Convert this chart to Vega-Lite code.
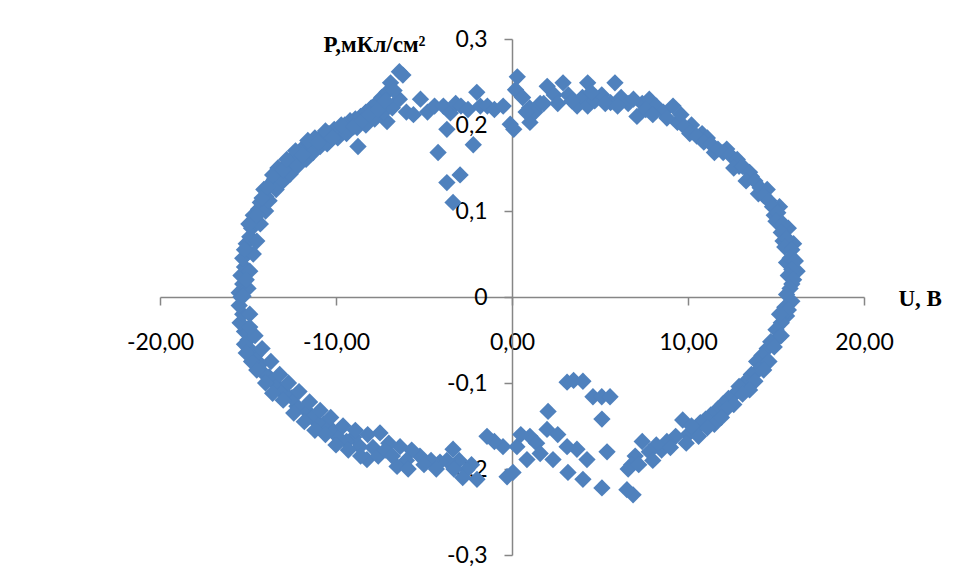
{
  "$schema": "https://vega.github.io/schema/vega-lite/v6.json",
  "width": 704,
  "height": 516,
  "autosize": {"type": "none"},
  "padding": {"left": 160, "top": 39, "right": 91, "bottom": 25},
  "background": "white",
  "config": {"view": {"stroke": null}},
  "data": {"values": [
    {"U":-15.5,"P":0.005},{"U":-15.3,"P":0.015},{"U":-15.4,"P":0.025},{"U":-15.2,"P":0.035},{"U":-15.3,"P":0.045},{"U":-15.0,"P":0.052},{"U":-15.1,"P":0.062},{"U":-14.9,"P":0.07},{"U":-14.8,"P":0.08},{"U":-14.6,"P":0.088},{"U":-14.7,"P":0.095},{"U":-14.4,"P":0.102},{"U":-14.3,"P":0.11},{"U":-14.0,"P":0.117},{"U":-14.1,"P":0.125},{"U":-13.7,"P":0.13},{"U":-13.5,"P":0.137},{"U":-13.2,"P":0.143},{"U":-13.3,"P":0.15},{"U":-12.9,"P":0.152},{"U":-12.6,"P":0.158},{"U":-12.4,"P":0.163},{"U":-12.0,"P":0.168},{"U":-11.8,"P":0.175},{"U":-11.5,"P":0.178},{"U":-11.2,"P":0.185},{"U":-10.8,"P":0.187},{"U":-10.4,"P":0.19},{"U":-10.1,"P":0.195},{"U":-9.8,"P":0.192},{"U":-9.5,"P":0.2},{"U":-9.2,"P":0.205},{"U":-8.9,"P":0.207},{"U":-8.6,"P":0.21},{"U":-8.3,"P":0.215},{"U":-8.0,"P":0.22},{"U":-7.7,"P":0.225},{"U":-7.4,"P":0.232},{"U":-7.1,"P":0.238},{"U":-6.9,"P":0.249},{"U":-6.4,"P":0.262},{"U":-6.2,"P":0.258},
    {"U":-15.0,"P":0.01},{"U":-14.9,"P":0.03},{"U":-14.7,"P":0.05},{"U":-14.5,"P":0.065},{"U":-14.3,"P":0.085},{"U":-14.0,"P":0.1},{"U":-13.8,"P":0.112},{"U":-13.4,"P":0.125},{"U":-13.0,"P":0.135},{"U":-12.6,"P":0.143},{"U":-12.2,"P":0.152},{"U":-11.7,"P":0.16},{"U":-11.3,"P":0.168},{"U":-10.9,"P":0.175},{"U":-10.5,"P":0.178},{"U":-9.9,"P":0.185},{"U":-9.4,"P":0.19},{"U":-8.75,"P":0.175},{"U":-8.8,"P":0.197},{"U":-8.3,"P":0.2},{"U":-7.8,"P":0.207},{"U":-7.1,"P":0.204},{"U":-7.3,"P":0.215},{"U":-6.8,"P":0.22},{"U":-6.4,"P":0.23},
    {"U":-15.4,"P":0.0},{"U":-15.1,"P":0.02},{"U":-15.2,"P":0.055},{"U":-14.95,"P":0.085},{"U":-14.5,"P":0.095},{"U":-14.2,"P":0.115},{"U":-13.9,"P":0.128},{"U":-13.6,"P":0.142},{"U":-13.0,"P":0.148},{"U":-12.8,"P":0.16},{"U":-12.3,"P":0.17},{"U":-11.9,"P":0.165},{"U":-11.6,"P":0.182},{"U":-11.0,"P":0.18},{"U":-10.6,"P":0.193},{"U":-10.2,"P":0.185},{"U":-9.7,"P":0.2},{"U":-9.0,"P":0.198},{"U":-8.5,"P":0.205},{"U":-8.1,"P":0.212},{"U":-7.6,"P":0.218},{"U":-7.2,"P":0.228},{"U":-6.7,"P":0.24},
    {"U":-6.0,"P":0.215},{"U":-5.6,"P":0.212},{"U":-5.2,"P":0.23},{"U":-4.8,"P":0.215},{"U":-4.4,"P":0.222},{"U":-3.9,"P":0.222},{"U":-3.5,"P":0.214},{"U":-3.2,"P":0.225},{"U":-2.9,"P":0.222},{"U":-2.5,"P":0.218},{"U":-2.0,"P":0.238},{"U":-1.8,"P":0.222},{"U":-1.4,"P":0.222},{"U":-1.0,"P":0.218},{"U":-0.5,"P":0.222},{"U":-0.1,"P":0.201},{"U":0.1,"P":0.195},
    {"U":-3.7,"P":0.195},{"U":-2.2,"P":0.177},{"U":-4.2,"P":0.168},{"U":-2.95,"P":0.142},{"U":-3.7,"P":0.133},{"U":-3.35,"P":0.11},
    {"U":0.3,"P":0.256},{"U":0.2,"P":0.241},{"U":0.6,"P":0.232},{"U":1.0,"P":0.22},{"U":1.02,"P":0.203},{"U":1.3,"P":0.215},{"U":1.6,"P":0.225},{"U":2.0,"P":0.245},{"U":2.4,"P":0.235},{"U":2.9,"P":0.249},{"U":3.2,"P":0.235},{"U":3.7,"P":0.222},{"U":4.0,"P":0.232},{"U":4.3,"P":0.249},{"U":4.3,"P":0.222},{"U":4.7,"P":0.228},{"U":5.1,"P":0.235},{"U":5.6,"P":0.226},{"U":5.85,"P":0.249},{"U":6.2,"P":0.232},{"U":6.6,"P":0.225},{"U":7.1,"P":0.21},{"U":7.4,"P":0.225},{"U":7.8,"P":0.23},{"U":8.2,"P":0.222},{"U":8.6,"P":0.215},{"U":9.15,"P":0.222},{"U":9.4,"P":0.203},
    {"U":0.8,"P":0.215},{"U":1.8,"P":0.225},{"U":2.6,"P":0.225},{"U":3.4,"P":0.228},{"U":4.5,"P":0.238},{"U":5.3,"P":0.225},{"U":6.0,"P":0.222},{"U":6.9,"P":0.23},{"U":7.6,"P":0.218},{"U":8.0,"P":0.212},{"U":8.8,"P":0.208},{"U":9.6,"P":0.212},{"U":10.2,"P":0.2},{"U":10.8,"P":0.19},{"U":11.1,"P":0.185},{"U":11.5,"P":0.168},{"U":12.2,"P":0.172},{"U":12.9,"P":0.152},{"U":13.6,"P":0.14},{"U":14.0,"P":0.12},{"U":14.5,"P":0.125},{"U":14.9,"P":0.095},{"U":15.2,"P":0.105},{"U":15.7,"P":0.08},{"U":15.4,"P":0.065},{"U":16.0,"P":0.062},{"U":15.6,"P":0.04},{"U":16.2,"P":0.03},{"U":15.9,"P":0.015},
    {"U":9.8,"P":0.198},{"U":10.1,"P":0.19},{"U":10.5,"P":0.187},{"U":10.9,"P":0.18},{"U":11.3,"P":0.178},{"U":11.7,"P":0.172},{"U":12.0,"P":0.168},{"U":12.4,"P":0.165},{"U":12.8,"P":0.16},{"U":12.6,"P":0.15},{"U":13.1,"P":0.152},{"U":13.5,"P":0.145},{"U":13.3,"P":0.135},{"U":13.8,"P":0.135},{"U":14.1,"P":0.127},{"U":14.3,"P":0.118},{"U":14.6,"P":0.112},{"U":14.8,"P":0.105},{"U":15.1,"P":0.098},{"U":15.0,"P":0.088},{"U":15.4,"P":0.085},{"U":15.3,"P":0.075},{"U":15.6,"P":0.068},{"U":15.5,"P":0.058},{"U":15.9,"P":0.055},{"U":15.8,"P":0.045},{"U":16.1,"P":0.042},{"U":15.9,"P":0.032},{"U":15.7,"P":0.025},{"U":16.0,"P":0.02},{"U":15.8,"P":0.01},{"U":15.6,"P":0.003},
    {"U":15.9,"P":-0.005},{"U":15.5,"P":-0.012},{"U":15.6,"P":-0.022},{"U":15.3,"P":-0.03},{"U":15.0,"P":-0.038},{"U":15.1,"P":-0.048},{"U":14.7,"P":-0.052},{"U":14.5,"P":-0.06},{"U":14.2,"P":-0.068},{"U":13.9,"P":-0.075},{"U":14.0,"P":-0.085},{"U":13.6,"P":-0.09},{"U":13.3,"P":-0.098},{"U":12.9,"P":-0.104},{"U":12.7,"P":-0.112},{"U":12.3,"P":-0.118},{"U":12.0,"P":-0.124},{"U":11.7,"P":-0.13},{"U":11.3,"P":-0.137},{"U":11.0,"P":-0.142},{"U":11.5,"P":-0.148},{"U":10.7,"P":-0.146},{"U":10.4,"P":-0.155},{"U":10.0,"P":-0.16},{"U":9.7,"P":-0.143},{"U":9.3,"P":-0.162},{"U":8.8,"P":-0.168},{"U":8.5,"P":-0.178},{"U":8.2,"P":-0.172},{"U":7.8,"P":-0.18},{"U":7.4,"P":-0.168},{"U":7.0,"P":-0.185},{"U":6.8,"P":-0.195},{"U":6.6,"P":-0.2},
    {"U":15.7,"P":-0.015},{"U":15.2,"P":-0.02},{"U":15.3,"P":-0.045},{"U":14.9,"P":-0.058},{"U":14.6,"P":-0.075},{"U":14.3,"P":-0.085},{"U":13.8,"P":-0.098},{"U":13.5,"P":-0.108},{"U":13.1,"P":-0.113},{"U":12.6,"P":-0.125},{"U":12.2,"P":-0.13},{"U":11.9,"P":-0.14},{"U":11.1,"P":-0.152},{"U":10.6,"P":-0.162},{"U":10.2,"P":-0.15},{"U":9.9,"P":-0.17},{"U":9.0,"P":-0.175},{"U":8.0,"P":-0.19},{"U":7.2,"P":-0.195},
    {"U":6.88,"P":-0.23},{"U":6.53,"P":-0.224},{"U":5.11,"P":-0.222},{"U":4.03,"P":-0.212},{"U":4.26,"P":-0.189},{"U":3.69,"P":-0.177},{"U":3.18,"P":-0.204},{"U":3.13,"P":-0.174},{"U":2.33,"P":-0.189},{"U":1.99,"P":-0.154},{"U":2.05,"P":-0.133},{"U":1.02,"P":-0.162},{"U":0.85,"P":-0.189},{"U":0.28,"P":-0.174},{"U":0.06,"P":-0.204},{"U":1.4,"P":-0.17},{"U":2.6,"P":-0.16},{"U":1.6,"P":-0.182},{"U":0.5,"P":-0.16},
    {"U":5.4,"P":-0.18},{"U":5.11,"P":-0.142},{"U":3.13,"P":-0.099},{"U":3.5,"P":-0.097},{"U":4.03,"P":-0.098},{"U":4.6,"P":-0.116},{"U":5.1,"P":-0.116},{"U":5.57,"P":-0.116},
    {"U":-0.28,"P":-0.209},{"U":-0.51,"P":-0.174},{"U":-1.0,"P":-0.168},{"U":-1.42,"P":-0.162},{"U":-1.99,"P":-0.212},{"U":-2.3,"P":-0.195},{"U":-2.56,"P":-0.201},{"U":-3.0,"P":-0.19},{"U":-3.35,"P":-0.177},{"U":-3.7,"P":-0.19},{"U":-4.09,"P":-0.192},{"U":-4.6,"P":-0.19},{"U":-5.23,"P":-0.185},{"U":-5.7,"P":-0.178},{"U":-6.0,"P":-0.19},{"U":-6.36,"P":-0.174},{"U":-6.53,"P":-0.197},{"U":-7.0,"P":-0.17},{"U":-7.5,"P":-0.158},{"U":-7.9,"P":-0.175},{"U":-8.24,"P":-0.189},{"U":-8.64,"P":-0.174},{"U":-9.0,"P":-0.163},{"U":-9.4,"P":-0.168},{"U":-9.94,"P":-0.162},{"U":-10.3,"P":-0.153},{"U":-10.7,"P":-0.148},{"U":-11.08,"P":-0.146},{"U":-11.4,"P":-0.138},{"U":-11.8,"P":-0.13},{"U":-12.22,"P":-0.127},{"U":-12.5,"P":-0.117},{"U":-12.9,"P":-0.112},{"U":-13.18,"P":-0.108},{"U":-13.5,"P":-0.1},{"U":-13.8,"P":-0.093},{"U":-14.15,"P":-0.088},{"U":-14.3,"P":-0.078},{"U":-14.6,"P":-0.068},{"U":-14.89,"P":-0.061},{"U":-15.0,"P":-0.05},{"U":-15.2,"P":-0.04},{"U":-15.45,"P":-0.03},{"U":-15.3,"P":-0.02},{"U":-15.5,"P":-0.01},{"U":-15.28,"P":0.001},
    {"U":-14.6,"P":-0.045},{"U":-14.2,"P":-0.06},{"U":-13.7,"P":-0.075},{"U":-13.2,"P":-0.09},{"U":-12.7,"P":-0.1},{"U":-12.1,"P":-0.11},{"U":-11.5,"P":-0.122},{"U":-10.9,"P":-0.132},{"U":-10.3,"P":-0.14},{"U":-9.6,"P":-0.15},{"U":-8.9,"P":-0.155},{"U":-8.2,"P":-0.16},{"U":-14.9,"P":-0.02},{"U":-14.9,"P":-0.035},
    {"U":-15.2,"P":-0.055},{"U":-14.8,"P":-0.075},{"U":-14.5,"P":-0.085},{"U":-14.0,"P":-0.1},{"U":-13.6,"P":-0.112},{"U":-13.0,"P":-0.12},{"U":-12.4,"P":-0.135},{"U":-11.8,"P":-0.145},{"U":-11.2,"P":-0.155},{"U":-10.6,"P":-0.16},{"U":-10.0,"P":-0.172},{"U":-9.3,"P":-0.178},{"U":-8.6,"P":-0.185},{"U":-7.6,"P":-0.185},{"U":-7.2,"P":-0.178},{"U":-6.8,"P":-0.185},{"U":-5.9,"P":-0.2},{"U":-5.0,"P":-0.195},{"U":-4.3,"P":-0.2},{"U":-3.3,"P":-0.2},{"U":-2.8,"P":-0.21},{"U":-15.1,"P":-0.065}
  ]},
  "mark": {"type": "point", "shape": "diamond", "filled": true, "size": 300, "color": "#4F81BD", "opacity": 1},
  "encoding": {
    "x": {
      "field": "U", "type": "quantitative",
      "scale": {"domain": [-20, 20], "nice": false, "zero": false},
      "axis": {
        "orient": "bottom", "offset": -258, "values": [-20, -10, 0, 10, 20],
        "labelExpr": "(datum.value < 0 ? '-' : '') + replace(format(abs(datum.value), '.2f'), '.', ',')",
        "grid": false, "domainColor": "#868686", "domainWidth": 1.5, "tickColor": "#868686", "tickWidth": 1.5, "tickSize": 8,
        "labelFont": "Lato", "labelFontSize": 23, "labelColor": "#000000", "labelPadding": 26, "labelFlush": false, "labelOverlap": false,
        "title": "U, B", "titleFont": "Liberation Serif", "titleFontWeight": "bold", "titleFontSize": 23, "titleColor": "#000000",
        "titleX": 738, "titleY": 1, "titleAlign": "left", "titleBaseline": "middle", "titleAngle": 0
      }
    },
    "y": {
      "field": "P", "type": "quantitative",
      "scale": {"domain": [-0.3, 0.3], "nice": false, "zero": false},
      "axis": {
        "orient": "left", "offset": -352, "values": [-0.3, -0.2, -0.1, 0, 0.1, 0.2, 0.3],
        "labelExpr": "datum.value == 0 ? '0' : (datum.value < 0 ? '-' : '') + replace(format(abs(datum.value), '.1f'), '.', ',')",
        "grid": false, "domainColor": "#868686", "domainWidth": 1.5, "tickColor": "#868686", "tickWidth": 1.5, "tickSize": 8,
        "labelFont": "Lato", "labelFontSize": 23, "labelColor": "#000000", "labelPadding": 17, "labelFlush": false, "labelOverlap": false,
        "title": "P,мКл/см²", "titleFont": "Liberation Serif", "titleFontWeight": "bold", "titleFontSize": 23, "titleColor": "#000000",
        "titleX": -87, "titleY": 5, "titleAlign": "right", "titleBaseline": "middle", "titleAngle": 0
      }
    }
  }
}
